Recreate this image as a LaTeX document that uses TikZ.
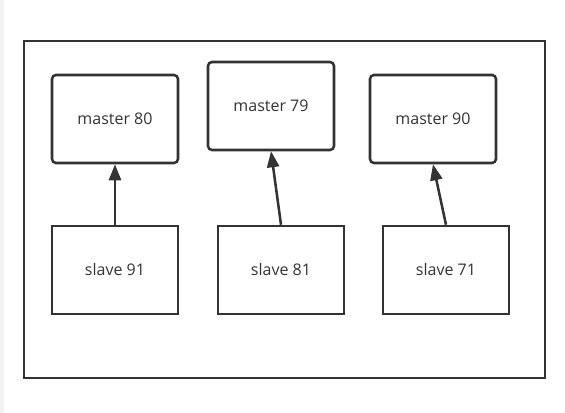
\documentclass[tikz,border=0pt]{standalone}
\usepackage{fontspec}
\setmainfont{Open Sans}
\usetikzlibrary{arrows.meta}
\definecolor{ln}{HTML}{333333}
\begin{document}
\begin{tikzpicture}[x=0.75pt,y=-0.75pt,
  box/.style={draw=ln,line width=1.9pt,minimum width=94.5pt,minimum height=66pt,inner sep=0pt,font=\fontsize{12}{14}\selectfont,text=ln},
  mbox/.style={box,rounded corners=3pt},
  conn/.style={draw=ln,line width=1.9pt,-{Triangle[length=12pt,width=9pt]}}]
\useasboundingbox (0,0) rectangle (565,413);
\fill[gray!10] (0,0) rectangle (4,413);
\node[draw=ln,line width=1.9pt,minimum width=390.75pt,minimum height=252.75pt,inner sep=0pt] (outer) at (284.5,209.5) {};
\node[mbox] (m80) at (115,119) {master 80};
\node[mbox] (m79) at (271,106) {master 79};
\node[mbox] (m90) at (433,119) {master 90};
\node[box] (s91) at (115,270) {slave 91};
\node[box] (s81) at (281,270) {slave 81};
\node[box] (s71) at (446,270) {slave 71};
\draw[conn] (s91.north) -- (m80.south);
\draw[conn] (s81.north) -- (m79.south);
\draw[conn] (s71.north) -- (m90.south);
\end{tikzpicture}
\end{document}
